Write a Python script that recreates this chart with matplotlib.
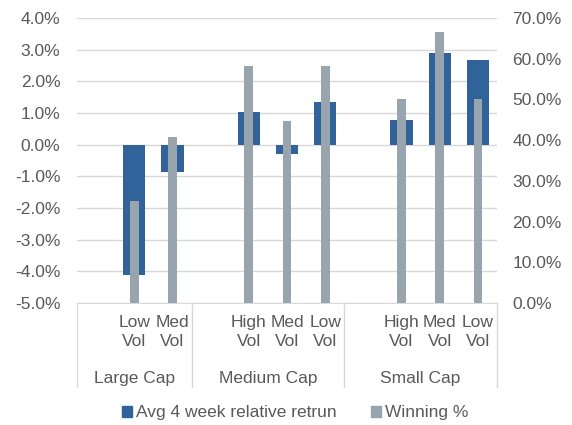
import matplotlib
matplotlib.use("Agg")
import matplotlib.pyplot as plt
from matplotlib.patches import Patch
from matplotlib.lines import Line2D
import numpy as np

plt.rcParams['font.family'] = ['Liberation Sans', 'DejaVu Sans']

groups = ["Large Cap", "Medium Cap", "Small Cap"]
group_slots = [
    ["", "Low\nVol", "Med\nVol"],
    ["", "High\nVol", "Med\nVol", "Low\nVol"],
    ["", "High\nVol", "Med\nVol", "Low\nVol"],
]
avg_return = [
    [np.nan, -4.12, -0.87],
    [np.nan, 1.04, -0.30, 1.35],
    [np.nan, 0.78, 2.88, 2.67],
]
winning = [
    [np.nan, 25.0, 40.7],
    [np.nan, 58.3, 44.6, 58.1],
    [np.nan, 50.0, 66.6, 50.0],
]

labels = [l for g in group_slots for l in g]
ret = [v for g in avg_return for v in g]
win = [v for g in winning for v in g]
x = np.arange(len(labels))

blue = "#31629A"
grey = "#98A4AE"
tcol = "#595959"
gcol = "#D9D9D9"
fs = 12.5

fig = plt.figure(figsize=(5.72, 4.25), dpi=100)
ax = fig.add_axes([77/572, 1-303/425, 420/572, 285/425])
ax2 = ax.twinx()

ax.bar(x, ret, width=0.58, color=blue, zorder=2)
ax2.bar(x, win, width=0.23, color=grey, zorder=3)
ax2.patch.set_visible(False)

ax.set_xlim(-0.5, len(labels)-0.5)
ax.set_ylim(-5, 4)
ax2.set_ylim(0, 70)
ax.set_yticks(np.arange(-5, 5, 1))
ax.set_yticklabels([f"{v:.1f}%" for v in np.arange(-5, 5, 1)])
ax2.set_yticks(np.arange(0, 80, 10))
ax2.set_yticklabels([f"{v:.1f}%" for v in np.arange(0, 80, 10)])
ax.yaxis.grid(True, color=gcol, lw=1, zorder=0)
ax.set_axisbelow(True)
for a in (ax, ax2):
    for s in ["top", "left", "right"]:
        a.spines[s].set_visible(False)
    a.spines["bottom"].set_color(gcol)
    a.tick_params(axis="y", length=0, labelsize=fs, labelcolor=tcol)
    a.set_xticks([])
ax.tick_params(axis="y", pad=12)
ax2.tick_params(axis="y", pad=11)
ax2.spines["bottom"].set_visible(False)

trans = ax.get_xaxis_transform()
for xi, lab in zip(x, labels):
    if lab:
        ax.text(xi, -0.043, lab, transform=trans, ha="center", va="top",
                fontsize=fs, color=tcol, linespacing=1.3)

edges = [-0.5]
for g in group_slots:
    edges.append(edges[-1] + len(g))
for e in edges:
    ax.add_line(Line2D([e, e], [0, -0.295], transform=trans, color=gcol,
                       lw=1, clip_on=False))
for i, gname in enumerate(groups):
    c = (edges[i] + edges[i+1]) / 2
    ax.text(c, -0.264, gname, transform=trans, ha="center", va="center",
            fontsize=fs, color=tcol)

handles = [Patch(color=blue, label="Avg 4 week relative retrun"),
           Patch(color=grey, label="Winning %")]
fig.legend(handles=handles, loc="center", bbox_to_anchor=(295/572, 1-413/425),
           ncol=2, frameon=False, fontsize=fs, handlelength=0.6,
           handleheight=0.6, handletextpad=0.2, columnspacing=2.0,
           labelcolor=tcol)

fig.savefig("out.png", dpi=100)
